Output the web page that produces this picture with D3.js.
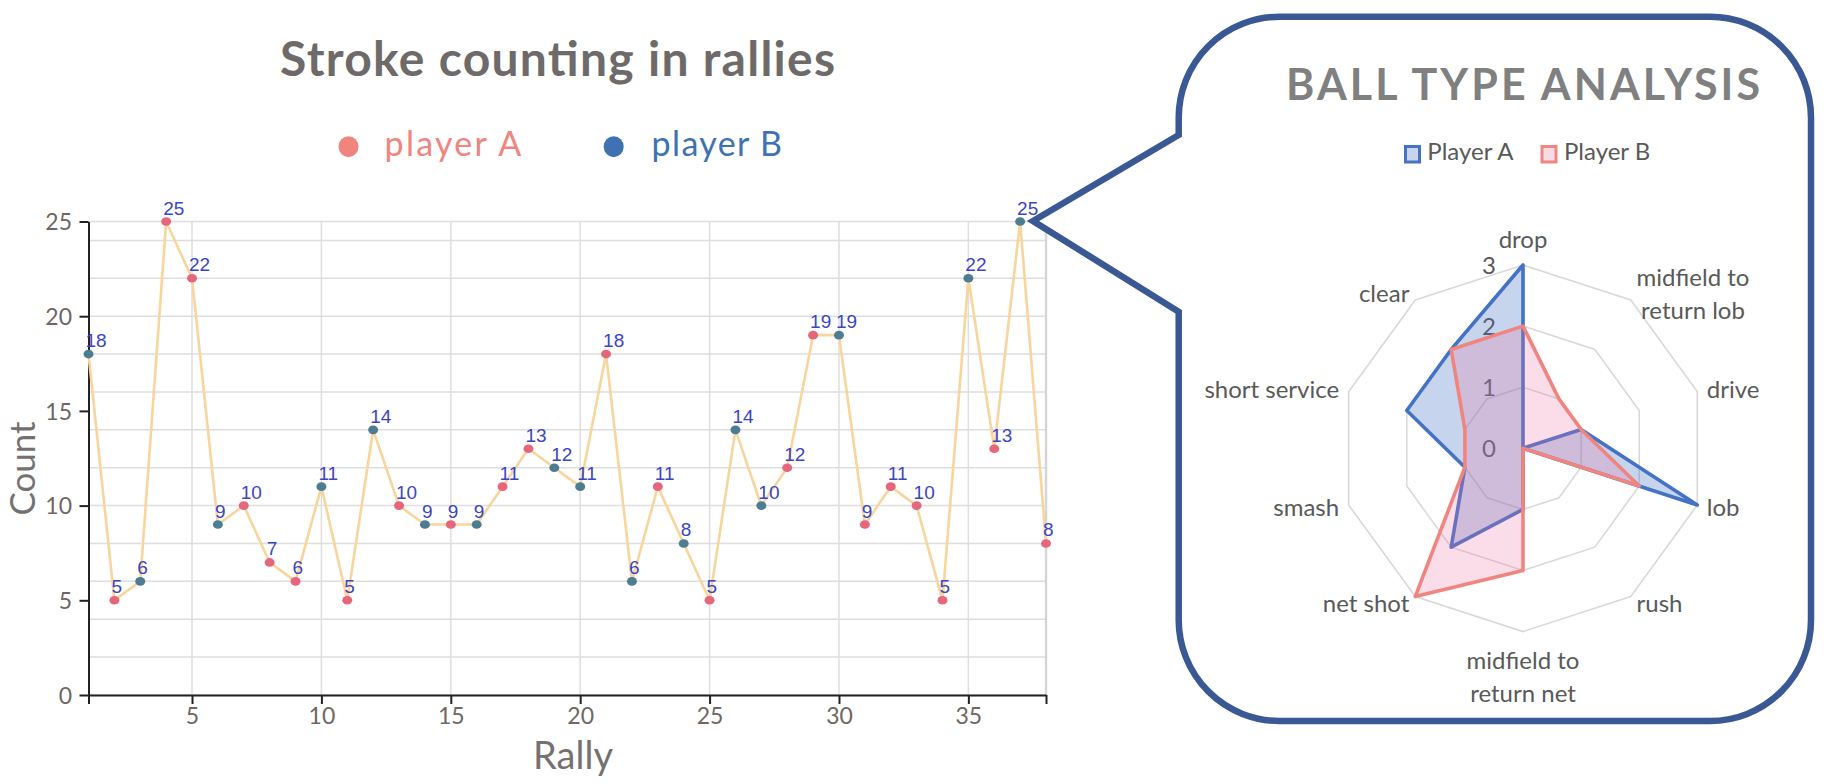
<!DOCTYPE html>
<html>
<head>
<meta charset="utf-8">
<script src="https://cdn.jsdelivr.net/npm/d3@7"></script>
<style>
  html, body { margin: 0; padding: 0; background: #ffffff; }
  svg { display: block; }
</style>
</head>
<body>
<svg id="chart" width="1830" height="784"></svg>
<script>
// ---------------- DATA ----------------
const rallies = [1,2,3,4,5,6,7,8,9,10,11,12,13,14,15,16,17,18,19,20,21,22,23,24,25,26,27,28,29,30,31,32,33,34,35,36,37,38];
const strokeCounts = [18,5,6,25,22,9,10,7,6,11,5,14,10,9,9,9,11,13,12,11,18,6,11,8,5,14,10,12,19,19,9,11,10,5,22,13,25,8];
const winners = ["B","A","B","A","A","B","A","A","A","B","A","B","A","B","A","B","A","A","B","B","A","B","A","B","A","B","B","A","A","B","A","A","A","A","B","A","B","A"];
const yTickValues = [0,5,10,15,20,25];
const yGridValues = [0,2,4,6,8,10,12,14,16,18,20,22,24,25];
const xTickValues = [1,5,10,15,20,25,30,35,38];
const xLabelValues = [5,10,15,20,25,30,35];
const xGridValues = [5,10,15,20,25,30,35,38];
const lineLegend = [{key:"A", label:"player A"}, {key:"B", label:"player B"}];

const radarAxes = ["drop","midfield to\nreturn lob","drive","lob","rush","midfield to\nreturn net","net shot","smash","short service","clear"];
const radarPlayerA = [3,0,1,3,0,1,2,1,2,2];
const radarPlayerB = [2,1,1,2,0,2,3,1,1,2];
const radarLevels = [1,2,3];
const radarLevelLabels = [0,1,2,3];
const radarLegend = ["Player A","Player B"];

// ---------------- SETUP ----------------
const svg = d3.select("#chart");
svg.append("rect").attr("width",1830).attr("height",784).attr("fill","#ffffff");

const x = d3.scaleLinear().domain([1,38]).range([88.5,1046]);
const y = d3.scaleLinear().domain([0,25]).range([695,221.5]);
const pointColor = {A:"#e6667c", B:"#4d7d92"};
const legendColor = {A:"#f0847f", B:"#3e72b3"};
const tickColor = "#6e6763";

// gridlines
const g = svg.append("g");
g.selectAll("line.hg").data(yGridValues).join("line")
  .attr("x1", x(1)).attr("x2", x(38))
  .attr("y1", d=>y(d)).attr("y2", d=>y(d))
  .attr("stroke","#dedede").attr("stroke-width",1.5);
g.selectAll("line.vg").data(xGridValues).join("line")
  .attr("x1", d=>x(d)).attr("x2", d=>x(d))
  .attr("y1", y(0)).attr("y2", y(25))
  .attr("stroke", d=> d===38 ? "#d6d6d6" : "#dedede").attr("stroke-width", d=> d===38 ? 2.5 : 1.5);

// axes
const yAxis = d3.axisLeft(y).tickValues(yTickValues).tickSize(9).tickSizeOuter(0).tickFormat(d3.format("d"));
const yg = svg.append("g").attr("transform", `translate(${x(1)},0)`).call(yAxis);
yg.select(".domain").attr("stroke","#222").attr("stroke-width",2);
yg.selectAll(".tick line").attr("stroke","#222").attr("stroke-width",2);
yg.selectAll(".tick text").attr("x",-16.5).attr("dy","0.36em")
  .attr("font-family","Lato, 'Open Sans', sans-serif").attr("font-size",23).attr("fill",tickColor);

const xAxis = d3.axisBottom(x).tickValues(xTickValues).tickSize(9).tickSizeOuter(0)
  .tickFormat(d => xLabelValues.includes(d) ? d : "");
const xg = svg.append("g").attr("transform", `translate(0,${y(0)})`).call(xAxis);
xg.select(".domain").attr("stroke","#222").attr("stroke-width",2);
xg.selectAll(".tick line").attr("stroke","#222").attr("stroke-width",2);
xg.selectAll(".tick text").attr("y",29).attr("dy",0)
  .attr("font-family","Lato, 'Open Sans', sans-serif").attr("font-size",23).attr("fill",tickColor);

// axis titles
svg.append("text").attr("transform","translate(35,468.5) rotate(-90)")
  .attr("text-anchor","middle").attr("font-family","Lato, sans-serif").attr("font-size",35)
  .attr("fill","#767171").text("Count");
svg.append("text").attr("x",573).attr("y",769)
  .attr("text-anchor","middle").attr("font-family","Lato, sans-serif").attr("font-size",38)
  .attr("fill","#767171").text("Rally");

// title
svg.append("text").attr("x",557.6).attr("y",76).attr("text-anchor","middle")
  .attr("font-family","Lato, sans-serif").attr("font-weight","bold").attr("font-size",48)
  .attr("fill","#6e6a69").attr("textLength",555).attr("lengthAdjust","spacing")
  .text("Stroke counting in rallies");

// legend
const legX = {A:[348.5,384.6,136.6], B:[613.7,651.6,130.4]};
lineLegend.forEach(l => {
  svg.append("ellipse").attr("cx",legX[l.key][0]).attr("cy",146.7).attr("rx",10).attr("ry",10.5)
    .attr("fill",legendColor[l.key]);
  svg.append("text").attr("x",legX[l.key][1]).attr("y",156)
    .attr("font-family","Lato, sans-serif").attr("font-size",34).attr("fill",legendColor[l.key])
    .attr("textLength",legX[l.key][2]).attr("lengthAdjust","spacing").text(l.label);
});

// line
const pts = rallies.map((r,i)=>({r, v:strokeCounts[i], w:winners[i]}));
svg.append("path").datum(pts)
  .attr("d", d3.line().x(d=>x(d.r)).y(d=>y(d.v)))
  .attr("fill","none").attr("stroke","#f8d59c").attr("stroke-width",2.6).attr("stroke-linejoin","round");

svg.selectAll("ellipse.pt").data(pts).join("ellipse").attr("class","pt")
  .attr("cx",d=>x(d.r)).attr("cy",d=>y(d.v)).attr("rx",5).attr("ry",4.3)
  .attr("fill",d=>pointColor[d.w]);

svg.selectAll("text.lbl").data(pts).join("text").attr("class","lbl")
  .attr("x",d=>x(d.r)-3).attr("y",d=>y(d.v)-7)
  .attr("font-family","'Liberation Sans', Arial, sans-serif").attr("font-size",19)
  .attr("fill","#3a45c2").text(d=>d.v);

// ---------------- CALLOUT BUBBLE ----------------
const L = 1178.7, R = 1811, T = 16.7, B = 721, rad = 101;
const bp = d3.path();
bp.moveTo(L+rad, T);
bp.lineTo(R-rad, T);
bp.arcTo(R, T, R, T+rad, rad);
bp.lineTo(R, B-rad);
bp.arcTo(R, B, R-rad, B, rad);
bp.lineTo(L+rad, B);
bp.arcTo(L, B, L, B-rad, rad);
bp.lineTo(L, 311.7);
bp.lineTo(1033, 221);
bp.lineTo(L, 135);
bp.lineTo(L, T+rad);
bp.arcTo(L, T, L+rad, T, rad);
bp.closePath();
svg.append("path").attr("d", bp.toString()).attr("fill","#ffffff")
  .attr("stroke","#3a5894").attr("stroke-width",6.5).attr("stroke-linejoin","miter").attr("stroke-miterlimit",10);

// radar title
svg.append("text").attr("x",1523).attr("y",100).attr("text-anchor","middle")
  .attr("font-family","Lato, sans-serif").attr("font-weight","bold").attr("font-size",43)
  .attr("fill","#808080").attr("textLength",474).attr("lengthAdjust","spacing")
  .text("BALL TYPE ANALYSIS");

// radar legend
const rlStyle = [{stroke:"#4472c4", fill:"#c9d4ec", rx:1405.5, tx:1427.3},{stroke:"#ee8782", fill:"#f7dce6", rx:1542, tx:1564}];
radarLegend.forEach((name,i)=>{
  svg.append("rect").attr("x",rlStyle[i].rx).attr("y",146.5).attr("width",14).attr("height",15.5)
    .attr("fill",rlStyle[i].fill).attr("stroke",rlStyle[i].stroke).attr("stroke-width",3);
  svg.append("text").attr("x",rlStyle[i].tx).attr("y",160).attr("font-family","Lato, sans-serif")
    .attr("font-size",24).attr("fill","#595959").text(name);
});

// radar
const rcx = 1523, rcy = 448.3;
const rs = d3.scaleLinear().domain([0,3]).range([0,183.3]);
const n = radarAxes.length;
const ang = i => i * 2*Math.PI/n;
const px = (i,v) => rcx + rs(v)*Math.sin(ang(i));
const py = (i,v) => rcy - rs(v)*Math.cos(ang(i));
const rg = svg.append("g");
radarLevels.forEach(lv=>{
  rg.append("path").attr("d", d3.line()(radarAxes.map((a,i)=>[px(i,lv),py(i,lv)])) + "Z")
    .attr("fill","none").attr("stroke","#d9d9d9").attr("stroke-width",1.6);
});
// level labels
rg.selectAll("text.lv").data(radarLevelLabels).join("text")
  .attr("x", rcx-27).attr("y", d=>rcy - rs(d) + 8.5).attr("text-anchor","end")
  .attr("font-family","Lato, sans-serif").attr("font-size",24).attr("fill","#595959").text(d=>d);

function drawSeries(vals, stroke, fill){
  rg.append("path").attr("d", d3.line()(vals.map((v,i)=>[px(i,v),py(i,v)])) + "Z")
    .attr("fill",fill).attr("stroke",stroke).attr("stroke-width",3.6).attr("stroke-linejoin","round");
}
drawSeries(radarPlayerA, "#4472c4", "rgba(68,114,196,0.3)");
drawSeries(radarPlayerB, "#f0857f", "rgba(236,112,165,0.24)");

// axis category labels
const fs = 24, lh = 33;
radarAxes.forEach((name,i)=>{
  const a = ang(i), s = Math.sin(a), c = Math.cos(a);
  const vx = px(i,3), vy = py(i,3);
  const lines = name.split("\n");
  const t = rg.append("text").attr("font-family","Lato, sans-serif").attr("font-size",fs)
    .attr("fill","#595959").attr("text-anchor","middle");
  lines.forEach(l => t.append("tspan").text(l));
  let maxW = 0;
  t.selectAll("tspan").each(function(){ maxW = Math.max(maxW, this.getComputedTextLength()); });
  const bh = lines.length*lh;
  let cx, cy;
  if (Math.abs(s) < 0.01) {
    cx = vx;
    cy = c > 0 ? vy - 9 - bh/2 : vy + 12 + bh/2;
  } else {
    cy = vy - 8*c;
    cx = s > 0 ? vx + 10*Math.abs(s) + maxW/2 : vx - 10*Math.abs(s) - maxW/2;
  }
  t.selectAll("tspan").attr("x", cx).attr("y", (d,j)=> cy - bh/2 + j*lh + lh/2 + 8.5);
});
</script>
</body>
</html>
